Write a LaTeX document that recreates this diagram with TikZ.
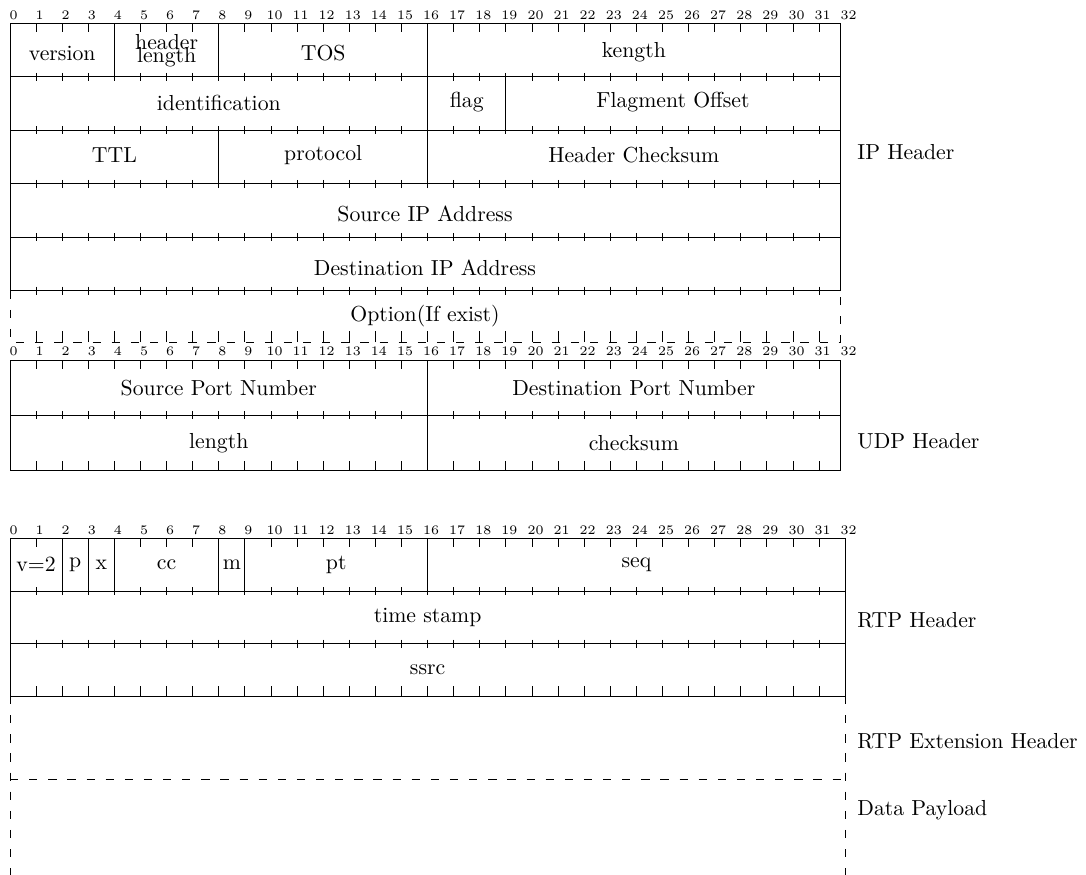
\documentclass[tikz,border=0pt]{standalone}
\begin{document}
\begin{tikzpicture}[x=0.46pt,y=-0.46pt,
  frame/.style={line width=0.45pt},
  tickline/.style={line width=0.45pt},
  dashline/.style={line width=0.45pt, dash pattern=on 3.8pt off 5pt},
  bitnum/.style={font=\fontsize{6}{7}\selectfont, inner sep=0pt},
  field/.style={inner sep=0pt},
  side/.style={anchor=base west, inner sep=0pt}]
\useasboundingbox (0,0) rectangle (1086,875);
\def\bw{26.1}

% ---------- IP header ----------
\foreach \i in {0,...,32} \node[bitnum] (ipn\i) at ({13.5+\i*\bw},15.5) {\i};
\draw[frame] (10,23.5) rectangle (840,290.7);
\foreach \y in {76.9,130.3,183.8,237.2} \draw[frame] (10,\y) -- (840,\y);
\foreach \i in {1,...,31} {
  \draw[tickline] ({10+\i*\bw},23.5) -- ++(0,9);
  \foreach \y in {76.9,130.3,183.8,237.2,290.7}
    \draw[tickline] ({10+\i*\bw},\y-4) -- ++(0,8);
  \draw[tickline] ({10+\i*\bw},342) -- ++(0,-11);
}
% field dividers
\foreach \b in {4,8,16} \draw[frame] ({10+\b*\bw},23.5) -- ({10+\b*\bw},76.9);
\foreach \b in {16,19} \draw[frame] ({10+\b*\bw},76.9) -- ({10+\b*\bw},130.3);
\foreach \b in {8,16} \draw[frame] ({10+\b*\bw},130.3) -- ({10+\b*\bw},183.8);
% optional row
\draw[dashline] (10,290.7) -- (10,342) -- (840,342) -- (840,290.7);

\node[field] (ver) at ({10+2*\bw},53.5) {version};
\node[field, align=center] (hlen) at ({10+6*\bw},50.4) {header\\[-5.9pt]length};
\node[field] (tos) at ({10+12*\bw},53.5) {TOS};
\node[field] (len) at ({(10+16*\bw+840)/2},52.5) {kength};
\node[field] (ident) at ({10+8*\bw},102.5) {identification};
\node[field] (flag) at ({10+17.5*\bw},102.5) {flag};
\node[field] (foff) at ({(10+19*\bw+840)/2},102.5) {Flagment Offset};
\node[field] (ttl) at ({10+4*\bw},155.5) {TTL};
\node[field] (proto) at ({10+12*\bw},155.5) {protocol};
\node[field] (hcs) at ({(10+16*\bw+840)/2},155.5) {Header Checksum};
\node[field] (sip) at (425,214) {Source IP Address};
\node[field] (dip) at (425,267.5) {Destination IP Address};
\node[field] (opt) at (425,316) {Option(If exist)};
\node[side] (iplab) at (857,160) {IP Header};

% ---------- UDP header ----------
\foreach \i in {0,...,32} \node[bitnum] (udpn\i) at ({13.5+\i*\bw},351.5) {\i};
\draw[frame] (10,360) rectangle (840,470.6);
\draw[frame] (10,415.3) -- (840,415.3);
\draw[frame] ({10+16*\bw},360) -- ({10+16*\bw},470.6);
\foreach \i in {1,...,31} {
  \draw[tickline] ({10+\i*\bw},360) -- ++(0,9);
  \draw[tickline] ({10+\i*\bw},411.3) -- ++(0,8);
  \draw[tickline] ({10+\i*\bw},470.6) -- ++(0,-10);
}
\node[field] (sport) at ({10+8*\bw},388.5) {Source Port Number};
\node[field] (dport) at ({(10+16*\bw+840)/2},388.5) {Destination Port Number};
\node[field] (ulen) at ({10+8*\bw},443) {length};
\node[field] (ucs) at ({(10+16*\bw+840)/2},443) {checksum};
\node[side] (udplab) at (857,448) {UDP Header};

% ---------- RTP header ----------
\foreach \i in {0,...,32} \node[bitnum] (rtpn\i) at ({13.5+\i*\bw},530) {\i};
\draw[frame] (10,538.3) rectangle ({10+32*\bw},696);
\foreach \y in {591,643.5} \draw[frame] (10,\y) -- ({10+32*\bw},\y);
\foreach \b in {2,3,4,8,9,16} \draw[frame] ({10+\b*\bw},538.3) -- ({10+\b*\bw},591);
\foreach \i in {1,...,31} {
  \draw[tickline] ({10+\i*\bw},538.3) -- ++(0,9);
  \foreach \y in {591,643.5} \draw[tickline] ({10+\i*\bw},\y-4) -- ++(0,8);
  \draw[tickline] ({10+\i*\bw},696) -- ++(0,-10);
}
\node[field] (ver2) at ({10+1*\bw},564.6) {v=2};
\node[field] (pad) at ({10+2.5*\bw},564.6) {p};
\node[field] (ext) at ({10+3.5*\bw},564.6) {x};
\node[field] (cc) at ({10+6*\bw},564.6) {cc};
\node[field] (mark) at ({10+8.5*\bw},564.6) {m};
\node[field] (pt) at ({10+12.5*\bw},564.6) {pt};
\node[field] (seq) at ({10+24*\bw},564.6) {seq};
\node[field] (ts) at ({10+16*\bw},617.5) {time stamp};
\node[field] (ssrc) at ({10+16*\bw},670) {ssrc};
\node[side] (rtplab) at (857,627.3) {RTP Header};

% ---------- extension and payload ----------
\draw[dashline] (10,696) -- (10,875);
\draw[dashline] ({10+32*\bw},696) -- ({10+32*\bw},875);
\draw[dashline] (10,779) -- ({10+32*\bw},779);
\node[side] (extlab) at (857,748.3) {RTP Extension Header};
\node[side] (paylab) at (857,815) {Data Payload};
\end{tikzpicture}
\end{document}
